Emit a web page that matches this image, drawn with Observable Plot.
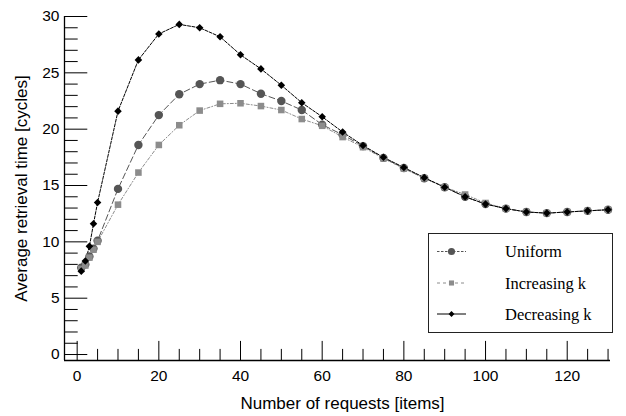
<!DOCTYPE html>
<html><head><meta charset="utf-8">
<script src="https://cdn.jsdelivr.net/npm/d3@7"></script>
<script src="https://cdn.jsdelivr.net/npm/@observablehq/plot@0.6"></script>
<style>
html,body{margin:0;padding:0;background:#fff;}
#chart{width:626px;height:416px;}
</style></head><body><div id="chart"></div>
<script>
// ---- data ----
const requests     = [1, 2, 3, 4, 5, 10, 15, 20, 25, 30, 35, 40, 45, 50, 55, 60, 65, 70, 75, 80, 85, 90, 95, 100, 105, 110, 115, 120, 125, 130];
const uniform      = [7.7, 8.0, 8.7, 9.4, 10.1, 14.7, 18.6, 21.25, 23.1, 24.0, 24.35, 24.0, 23.15, 22.5, 21.7, 20.4, 19.5, 18.5, 17.45, 16.55, 15.65, 14.85, 14.0, 13.35, 12.95, 12.65, 12.55, 12.65, 12.75, 12.85];
const increasingK  = [7.6, 7.9, 8.6, 9.3, 10.0, 13.3, 16.15, 18.6, 20.35, 21.65, 22.25, 22.3, 22.05, 21.7, 20.9, 20.3, 19.3, 18.4, 17.4, 16.5, 15.65, 14.85, 14.2, 13.45, 12.95, 12.65, 12.55, 12.65, 12.75, 12.85];
const decreasingK  = [7.4, 8.3, 9.6, 11.6, 13.5, 21.6, 26.15, 28.45, 29.3, 29.0, 28.2, 26.6, 25.35, 23.9, 22.35, 21.1, 19.75, 18.55, 17.5, 16.6, 15.7, 14.85, 14.0, 13.35, 12.95, 12.65, 12.55, 12.65, 12.75, 12.85];
const seriesNames  = ["Uniform", "Increasing k", "Decreasing k"];
const xTickLabels  = [0, 20, 40, 60, 80, 100, 120];
const xMinorTicks  = d3.range(0, 131, 5);
const yTickLabels  = [0, 5, 10, 15, 20, 25, 30];
const yMinorTicks  = d3.range(0, 31, 1);
const xTitle = "Number of requests [items]";
const yTitle = "Average retrieval time [cycles]";

// ---- styling ----
const styles = {
  "Uniform":      {color: "#555555", symbol: "circle", r: 4.2, dash: "6,3",     legendDash: "2.5,1.5"},
  "Increasing k": {color: "#8c8c8c", symbol: "square", r: 3.7, dash: "3,2,1,2", legendDash: "3,3"},
  "Decreasing k": {color: "#000000", symbol: "diamond2", r: 3.4, dash: "3,1.5", legendDash: null}
};
const rows = (vals, name) => requests.map((x, i) => ({x, y: vals[i], series: name}));
const data = {
  "Uniform": rows(uniform, "Uniform"),
  "Increasing k": rows(increasingK, "Increasing k"),
  "Decreasing k": rows(decreasingK, "Decreasing k")
};

const xDom = [-3.1, 130.6], yDom = [-0.53, 30];
const sans = "'Liberation Sans', Arial, Helvetica, sans-serif";
const tickLine = {draw(ctx, l) { ctx.moveTo(0, 0); ctx.lineTo(0, -l); }};

const seriesMarks = [];
for (const name of seriesNames) {
  const s = styles[name];
  seriesMarks.push(Plot.line(data[name], {x: "x", y: "y", stroke: s.color, strokeWidth: 1, strokeDasharray: s.dash}));
}
for (const name of seriesNames) {
  const s = styles[name];
  seriesMarks.push(Plot.dot(data[name], {x: "x", y: "y", symbol: s.symbol, r: s.r, fill: s.color, stroke: "none"}));
}

const svg = Plot.plot({
  width: 626, height: 416,
  marginLeft: 64, marginRight: 16, marginTop: 16, marginBottom: 56,
  style: {fontFamily: sans, fontSize: "15.5px", color: "#000", background: "#fff"},
  x: {domain: xDom, label: null},
  y: {domain: yDom, label: null},
  marks: [
    Plot.ruleY([yDom[0]], {stroke: "#000", strokeWidth: 1.3}),
    Plot.ruleX([xDom[0]], {stroke: "#000", strokeWidth: 1.3}),
    Plot.vector(xMinorTicks, {x: d => d, frameAnchor: "bottom", rotate: 0, anchor: "start", shape: tickLine,
      length: d => d % 20 === 0 ? 6 : 3.5, stroke: "#000", strokeWidth: 1}),
    Plot.vector(yMinorTicks, {y: d => d, frameAnchor: "left", rotate: 90, anchor: "start", shape: tickLine,
      length: d => d % 5 === 0 ? 7 : 4, stroke: "#000", strokeWidth: 1}),
    Plot.axisX(xTickLabels, {tickSize: 0, tickPadding: 9, fill: "#000", fontSize: 15.5}),
    Plot.axisY(yTickLabels, {tickSize: 0, tickPadding: 5, fill: "#000", fontSize: 15.5}),
    Plot.text([xTitle], {text: d => d, frameAnchor: "bottom", textAnchor: "middle", dy: 42.6, dx: 5, lineAnchor: "middle", fontSize: 17, fill: "#000"}),
    Plot.text([yTitle], {text: d => d, frameAnchor: "left", textAnchor: "middle", rotate: -90, dx: -43, lineAnchor: "middle", fontSize: 17, fill: "#000"}),
    ...seriesMarks
  ]
});
document.getElementById("chart").appendChild(svg);

// ---- legend (inside the plot area) ----
const lg = d3.select(svg).append("g").attr("class", "legend").attr("text-anchor", "start");
lg.append("rect").attr("x", 428.5).attr("y", 233.5).attr("width", 184).attr("height", 99)
  .attr("fill", "#fff").attr("stroke", "#222").attr("stroke-width", 1);
const rowY = [251.5, 283, 314];
seriesNames.forEach((name, i) => {
  const s = styles[name];
  const y = rowY[i];
  lg.append("line").attr("x1", 437).attr("x2", 466).attr("y1", y).attr("y2", y)
    .attr("stroke", s.color).attr("stroke-width", 1)
    .attr("stroke-dasharray", s.legendDash);
  const sym = s.symbol === "circle" ? d3.symbolCircle : s.symbol === "square" ? d3.symbolSquare : d3.symbolDiamond2;
  const size = s.symbol === "circle" ? 40 : s.symbol === "square" ? 26 : 22;
  lg.append("path").attr("d", d3.symbol(sym, size)()).attr("transform", `translate(451.5,${y})`).attr("fill", s.color);
  lg.append("text").attr("x", 505).attr("y", y).attr("dy", "0.35em").attr("text-anchor", "start")
    .attr("font-family", "'Liberation Serif', 'Times New Roman', serif").attr("font-size", 16.5)
    .attr("fill", "#000").text(name);
});
</script>
</body></html>
